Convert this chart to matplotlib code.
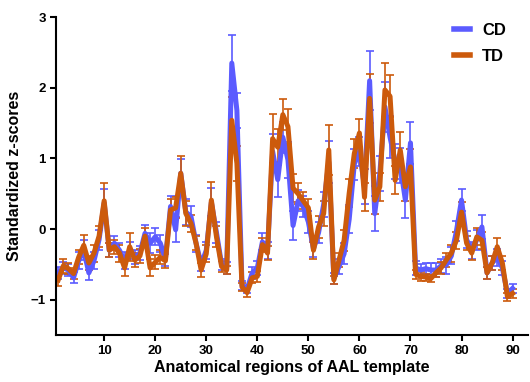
import numpy as np
import matplotlib
matplotlib.use('Agg')
from matplotlib import pyplot as plt
from matplotlib.lines import Line2D

plt.rcParams['font.family'] = ['Liberation Sans', 'DejaVu Sans']
plt.rcParams['font.weight'] = 'bold'

# regions 1..90 of the AAL template
regions = np.arange(1, 91)

td_mean = [-0.72, -0.52, -0.56, -0.63, -0.40, -0.23, -0.48, -0.34, -0.10, 0.40,
           -0.30, -0.25, -0.34, -0.55, -0.25, -0.44, -0.38, -0.10, -0.55, -0.47,
           -0.40, -0.45, 0.27, 0.30, 0.79, 0.22, 0.08, -0.20, -0.58, -0.35,
           0.41, -0.11, -0.53, -0.58, 1.54, 0.93, -0.82, -0.90, -0.69, -0.67,
           -0.22, -0.34, 1.28, 1.16, 1.62, 1.45, 0.58, 0.50, 0.40, 0.30,
           -0.30, 0.03, 0.22, 1.12, -0.72, -0.44, -0.16, 0.51, 1.07, 1.36,
           0.45, 1.85, 0.41, 0.60, 1.97, 1.88, 0.69, 1.12, 0.60, 0.88,
           -0.64, -0.67, -0.68, -0.70, -0.62, -0.55, -0.44, -0.34, -0.16, 0.24,
           -0.20, -0.34, -0.11, -0.16, -0.62, -0.48, -0.25, -0.48, -0.96, -0.91]

cd_mean = [-0.62, -0.55, -0.58, -0.69, -0.45, -0.30, -0.62, -0.45, -0.15, 0.37,
           -0.30, -0.20, -0.30, -0.45, -0.30, -0.40, -0.34, -0.06, -0.20, -0.11,
           -0.20, -0.42, 0.32, -0.01, 0.79, 0.24, 0.18, -0.20, -0.50, -0.30,
           0.38, -0.05, -0.50, -0.55, 2.35, 1.68, -0.80, -0.85, -0.62, -0.55,
           -0.18, -0.30, 1.10, 0.70, 1.30, 0.98, 0.05, 0.40, 0.32, 0.10,
           -0.28, -0.05, 0.35, 0.95, -0.70, -0.53, -0.35, 0.14, 0.92, 1.10,
           0.60, 2.10, 0.22, 0.79, 1.73, 1.30, 0.96, 0.90, 0.41, 1.22,
           -0.55, -0.58, -0.56, -0.58, -0.58, -0.52, -0.51, -0.38, -0.03, 0.41,
           -0.15, -0.30, -0.15, 0.03, -0.62, -0.48, -0.40, -0.55, -0.91, -0.84]

td_err = [0.08, 0.10, 0.08, 0.08, 0.10, 0.14, 0.10, 0.12, 0.15, 0.25,
          0.10, 0.10, 0.12, 0.12, 0.20, 0.10, 0.10, 0.12, 0.12, 0.10,
          0.10, 0.10, 0.15, 0.15, 0.24, 0.18, 0.12, 0.10, 0.10, 0.12,
          0.25, 0.15, 0.08, 0.06, 0.33, 0.25, 0.06, 0.06, 0.08, 0.08,
          0.10, 0.10, 0.35, 0.25, 0.22, 0.25, 0.20, 0.15, 0.12, 0.12,
          0.12, 0.15, 0.18, 0.35, 0.06, 0.10, 0.15, 0.20, 0.20, 0.20,
          0.20, 0.35, 0.20, 0.20, 0.38, 0.30, 0.20, 0.25, 0.20, 0.25,
          0.06, 0.06, 0.05, 0.05, 0.06, 0.08, 0.10, 0.12, 0.12, 0.15,
          0.10, 0.10, 0.12, 0.12, 0.08, 0.10, 0.12, 0.10, 0.06, 0.06]

cd_err = [0.08, 0.08, 0.08, 0.08, 0.12, 0.14, 0.10, 0.12, 0.14, 0.20,
          0.10, 0.10, 0.10, 0.12, 0.12, 0.10, 0.10, 0.12, 0.14, 0.12,
          0.12, 0.10, 0.15, 0.18, 0.20, 0.18, 0.15, 0.12, 0.10, 0.12,
          0.20, 0.15, 0.08, 0.08, 0.40, 0.25, 0.06, 0.06, 0.08, 0.10,
          0.12, 0.12, 0.25, 0.25, 0.22, 0.25, 0.20, 0.15, 0.15, 0.15,
          0.12, 0.15, 0.18, 0.30, 0.08, 0.10, 0.15, 0.20, 0.22, 0.20,
          0.25, 0.42, 0.25, 0.25, 0.35, 0.30, 0.25, 0.25, 0.25, 0.30,
          0.10, 0.08, 0.08, 0.10, 0.10, 0.10, 0.12, 0.12, 0.14, 0.16,
          0.12, 0.12, 0.14, 0.17, 0.08, 0.10, 0.12, 0.10, 0.06, 0.06]

cd_color = '#5b5bff'
td_color = '#cc5a0c'

fig = plt.figure(figsize=(5.3, 3.82), dpi=100)
ax = fig.add_axes([0.106, 0.123, 0.89, 0.832])

ax.errorbar(regions, cd_mean, yerr=cd_err, color=cd_color, lw=3.6,
            elinewidth=1.2, capsize=3, capthick=1.2, label='CD')
ax.errorbar(regions, td_mean, yerr=td_err, color=td_color, lw=3.6,
            elinewidth=1.2, capsize=3, capthick=1.2, label='TD')

ax.set_xlim(0.6, 93)
ax.set_ylim(-1.5, 3)
ax.set_xticks(np.arange(10, 91, 10))
ax.set_yticks([-1, 0, 1, 2, 3])

for s in ['top', 'right']:
    ax.spines[s].set_visible(False)
for s in ['left', 'bottom']:
    ax.spines[s].set_linewidth(1.5)
ax.tick_params(direction='out', length=4, width=1.5, labelsize=9.5)

ax.set_xlabel('Anatomical regions of AAL template', fontsize=11.5, fontweight='bold', labelpad=2)
ax.set_ylabel('Standardized z-scores', fontsize=11.5, fontweight='bold', labelpad=6)

hl = [Line2D([], [], color=cd_color, lw=4), Line2D([], [], color=td_color, lw=4)]
ax.legend(hl, ['CD', 'TD'], loc='upper right', frameon=False,
          handlelength=1.0, handletextpad=0.7, labelspacing=0.7,
          bbox_to_anchor=(0.985, 1.03),
          prop={'family': ['Liberation Sans', 'DejaVu Sans'], 'weight': 'bold', 'size': 12})

fig.savefig('out.png', dpi=100)
